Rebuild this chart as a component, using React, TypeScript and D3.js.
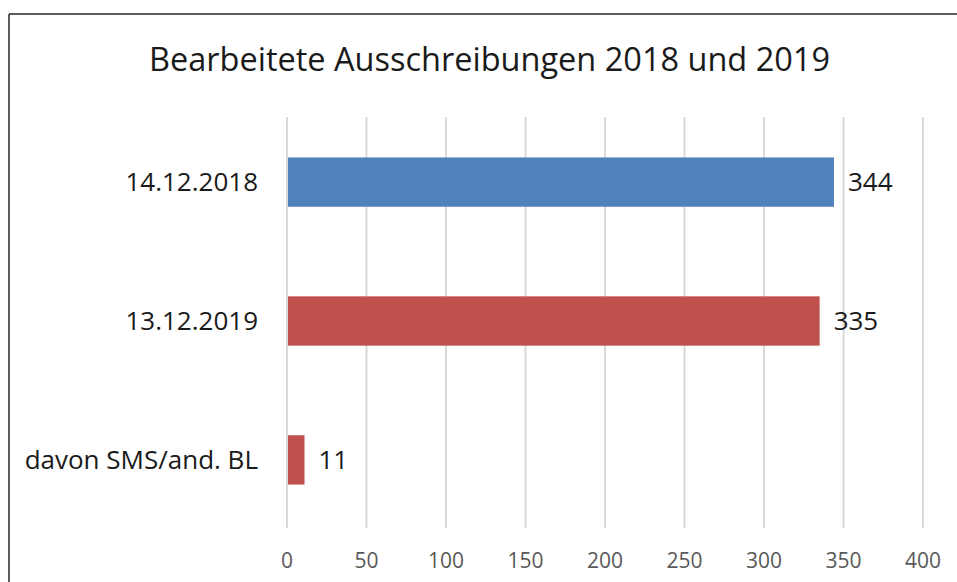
import React from "react";
import * as d3 from "d3";

const TITLE = "Bearbeitete Ausschreibungen 2018 und 2019";
const categories = ["14.12.2018", "13.12.2019", "davon SMS/and. BL"];
const values = [344, 335, 11];
const barColors = ["#4F81BD", "#C0504D", "#C0504D"];
const xTicks = [0, 50, 100, 150, 200, 250, 300, 350, 400];

const W = 957;
const H = 582;
const FONT = "'Open Sans', 'Noto Sans', sans-serif";

export default function App() {
  const x = d3.scaleLinear().domain([0, 400]).range([287, 923]);
  const y = d3
    .scaleBand<string>()
    .domain(categories)
    .range([113, 529])
    .paddingInner(0.645)
    .paddingOuter(0.32);
  const gridTop = 117;
  const gridBottom = 528;

  return (
    <svg
      width={W}
      height={H}
      style={{ position: "absolute", left: 0, top: 0, background: "#fff" }}
    >
      <rect x={0} y={0} width={W} height={H} fill="#fff" />
      <line x1={9} y1={14} x2={957} y2={14} stroke="#262626" strokeWidth={1.5} />
      <line x1={9} y1={14} x2={9} y2={582} stroke="#262626" strokeWidth={1.5} />

      <text
        x={489.5}
        y={71}
        textAnchor="middle"
        fontFamily={FONT}
        fontSize={32.5}
        fill="#1a1a1a"
      >
        {TITLE}
      </text>

      {xTicks.map((t) => (
        <g key={t}>
          <line
            x1={x(t)}
            x2={x(t)}
            y1={gridTop}
            y2={gridBottom}
            stroke="#d9d9d9"
            strokeWidth={2}
          />
          <text
            x={x(t)}
            y={568}
            textAnchor="middle"
            fontFamily={FONT}
            fontSize={21}
            fill="#595959"
          >
            {t}
          </text>
        </g>
      ))}

      {categories.map((c, i) => {
        const by = y(c)!;
        const bh = y.bandwidth();
        const cy = by + bh / 2;
        return (
          <g key={c}>
            <rect
              x={x(0) + 1}
              y={by}
              width={x(values[i]) - x(0) - 1}
              height={bh}
              fill={barColors[i]}
            />
            <text
              x={x(values[i]) + 14}
              y={cy}
              dy="0.36em"
              fontFamily={FONT}
              fontSize={26}
              fill="#1a1a1a"
            >
              {values[i]}
            </text>
            <text
              x={258}
              y={cy}
              dy="0.36em"
              textAnchor="end"
              fontFamily={FONT}
              fontSize={26}
              fill="#1a1a1a"
            >
              {c}
            </text>
          </g>
        );
      })}
    </svg>
  );
}
